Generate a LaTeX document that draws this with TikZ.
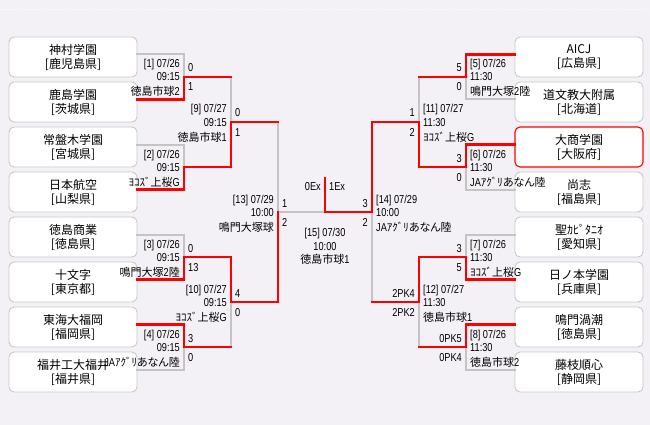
\documentclass[tikz,border=0pt]{standalone}
\usepackage{fontspec}
\setmainfont{Liberation Sans}[FakeStretch=0.8]
\newfontfamily\jpf{Noto Sans CJK JP}
\newfontfamily\jpp{Noto Sans CJK JP}[RawFeature=+palt]
\newcommand\J[1]{{\jpf\fontsize{11}{13}\selectfont #1}}
\newcommand\JP[1]{{\jpp\fontsize{11}{13}\selectfont #1}}
\definecolor{bg}{RGB}{243,241,245}
\definecolor{ln}{RGB}{196,196,196}
\definecolor{bx}{RGB}{200,200,200}
\newcommand\LMatch[8]{%
 \node[lbl,anchor=east] (#1a) at (#2-4,#3-13) {#4};
 \node[lbl,anchor=east] (#1b) at (#2-4,#3) {#5};
 \node[lbl,anchor=east] (#1c) at (#2-4,#3+15) {#6};
 \node[lbl,anchor=west] (#1u) at (#2+4,#3-9) {#7};
 \node[lbl,anchor=west] (#1d) at (#2+4,#3+10) {#8};
}
\newcommand\RMatch[8]{%
 \node[lbl,anchor=west] (#1a) at (#2+4,#3-13) {#4};
 \node[lbl,anchor=west] (#1b) at (#2+4,#3) {#5};
 \node[lbl,anchor=west] (#1c) at (#2+4,#3+15) {#6};
 \node[lbl,anchor=east] (#1u) at (#2-4,#3-9) {#7};
 \node[lbl,anchor=east] (#1d) at (#2-4,#3+10) {#8};
}
\begin{document}
\begin{tikzpicture}[x=1pt,y=-1pt,
 gl/.style={draw=ln, line width=2pt, line cap=rect},
 rl/.style={draw=red, line width=2.2pt, line cap=rect},
 team/.style={draw=bx, line width=0.9pt, fill=white, rounded corners=5pt,
   minimum width=128pt, minimum height=40pt, inner sep=0pt, align=center,
   font=\jpf\fontsize{12}{14}\selectfont},
 lbl/.style={inner sep=0pt, font=\fontsize{11.5}{13}\selectfont, text height=8pt, text depth=0pt},
]
\fill[bg] (0,0) rectangle (650,425);
\useasboundingbox (0,0) rectangle (650,425);
\draw[white, dotted, line width=1pt] (0,10) -- (650,10);

% teams left
\node[team] (t1) at (73,57) {神村学園\\{[鹿児島県]}};
\node[team] (t2) at (73,102) {鹿島学園\\{[茨城県]}};
\node[team] (t3) at (73,147) {常盤木学園\\{[宮城県]}};
\node[team] (t4) at (73,192) {日本航空\\{[山梨県]}};
\node[team] (t5) at (73,237) {徳島商業\\{[徳島県]}};
\node[team] (t6) at (73,282) {十文字\\{[東京都]}};
\node[team] (t7) at (73,327) {東海大福岡\\{[福岡県]}};
\node[team] (t8) at (73,372) {福井工大福井\\{[福井県]}};
% teams right
\node[team] (t9) at (579,57) {AICJ\\{[広島県]}};
\node[team] (t10) at (579,102) {道文教大附属\\{[北海道]}};
\node[team, draw=red, line width=1.1pt] (t11) at (579,147) {大商学園\\{[大阪府]}};
\node[team] (t12) at (579,192) {尚志\\{[福島県]}};
\node[team] (t13) at (579,237) {聖ｶﾋﾟﾀﾆｵ\\{[愛知県]}};
\node[team] (t14) at (579,282) {日ノ本学園\\{[兵庫県]}};
\node[team] (t15) at (579,327) {鳴門渦潮\\{[徳島県]}};
\node[team] (t16) at (579,372) {藤枝順心\\{[静岡県]}};

% match points
\coordinate (m1) at (184,77);
\coordinate (m2) at (184,167);
\coordinate (m3) at (184,257);
\coordinate (m4) at (184,347);
\coordinate (m9) at (231,122);
\coordinate (m10) at (231,302);
\coordinate (m13) at (278,212);
\coordinate (m5) at (466,77);
\coordinate (m6) at (466,167);
\coordinate (m7) at (466,257);
\coordinate (m8) at (466,347);
\coordinate (m11) at (419,122);
\coordinate (m12) at (419,302);
\coordinate (m14) at (372,212);
\coordinate (c) at (325,212);
\coordinate (ch) at (325,178);

% gray bracket
\foreach \t/\m in {t1/m1,t2/m1,t3/m2,t4/m2,t5/m3,t6/m3,t7/m4,t8/m4}
  \draw[gl] ([yshift=2.5pt]\t.east) -| (\m);
\foreach \t/\m in {t9/m5,t10/m5,t11/m6,t12/m6,t13/m7,t14/m7,t15/m8,t16/m8}
  \draw[gl] ([yshift=2.5pt]\t.west) -| (\m);
\foreach \a/\b in {m1/m9,m2/m9,m3/m10,m4/m10,m9/m13,m10/m13,m5/m11,m6/m11,m7/m12,m8/m12,m11/m14,m12/m14}
  \draw[gl] (\a) -| (\b);
\draw[gl] (m13) -- (c) -- (m14);

% red winners
\draw[rl] ([yshift=2.5pt]t2.east) -| (m1) -- (m1 -| m9);
\draw[rl] ([yshift=2.5pt]t4.east) -| (m2) -| (m9) -- (m9 -| m13);
\draw[rl] ([yshift=2.5pt]t6.east) -| (m3) -| (m10) -| (m13);
\draw[rl] ([yshift=2.5pt]t7.east) -| (m4) -- (m4 -| m10);
\draw[rl] ([yshift=2.5pt]t9.west) -| (m5) -- (m5 -| m11);
\draw[rl] ([yshift=2.5pt]t11.west) -| (m6) -| (m11) -| (m14) -- (c) -- (ch);
\draw[rl] ([yshift=2.5pt]t14.west) -| (m7) -| (m12) -- (m12 -| m14);
\draw[rl] ([yshift=2.5pt]t15.west) -| (m8) -- (m8 -| m12);

% match labels left
\LMatch{g1}{184}{77}{[1] 07/26}{09:15}{\J{徳島市球}2}{0}{1}
\LMatch{g2}{184}{167}{[2] 07/26}{09:15}{\J{ﾖｺｽﾞ上桜}G}{}{}
\LMatch{g3}{184}{257}{[3] 07/26}{09:15}{\J{鳴門大塚}2\J{陸}}{0}{13}
\LMatch{g4}{184}{347}{[4] 07/26}{09:15}{JA\JP{ｱｸﾞﾘあなん陸}}{3}{0}
\LMatch{g9}{231}{122}{[9] 07/27}{09:15}{\J{徳島市球}1}{0}{1}
\LMatch{g10}{231}{302}{[10] 07/27}{09:15}{\J{ﾖｺｽﾞ上桜}G}{4}{0}
\LMatch{g13}{278}{212}{[13] 07/29}{10:00}{\J{鳴門大塚球}}{1}{2}
% match labels right
\RMatch{g5}{466}{77}{[5] 07/26}{11:30}{\J{鳴門大塚}2\J{陸}}{5}{0}
\RMatch{g6}{466}{167}{[6] 07/26}{11:30}{JA\JP{ｱｸﾞﾘあなん陸}}{3}{0}
\RMatch{g7}{466}{257}{[7] 07/26}{11:30}{\J{ﾖｺｽﾞ上桜}G}{3}{5}
\RMatch{g8}{466}{347}{[8] 07/26}{11:30}{\J{徳島市球}2}{0PK5}{0PK4}
\RMatch{g11}{419}{122}{[11] 07/27}{11:30}{\J{ﾖｺｽﾞ上桜}G}{1}{2}
\RMatch{g12}{419}{302}{[12] 07/27}{11:30}{\J{徳島市球}1}{2PK4}{2PK2}
\RMatch{g14}{372}{212}{[14] 07/29}{10:00}{JA\JP{ｱｸﾞﾘあなん陸}}{3}{2}

% final
\node[lbl,anchor=east] (f0) at (321,186) {0Ex};
\node[lbl,anchor=west] (f1) at (329,186) {1Ex};
\node[lbl] (fa) at (325,232) {[15] 07/30};
\node[lbl] (fb) at (325,246) {10:00};
\node[lbl] (fc) at (325,259) {\J{徳島市球}1};
\end{tikzpicture}
\end{document}
